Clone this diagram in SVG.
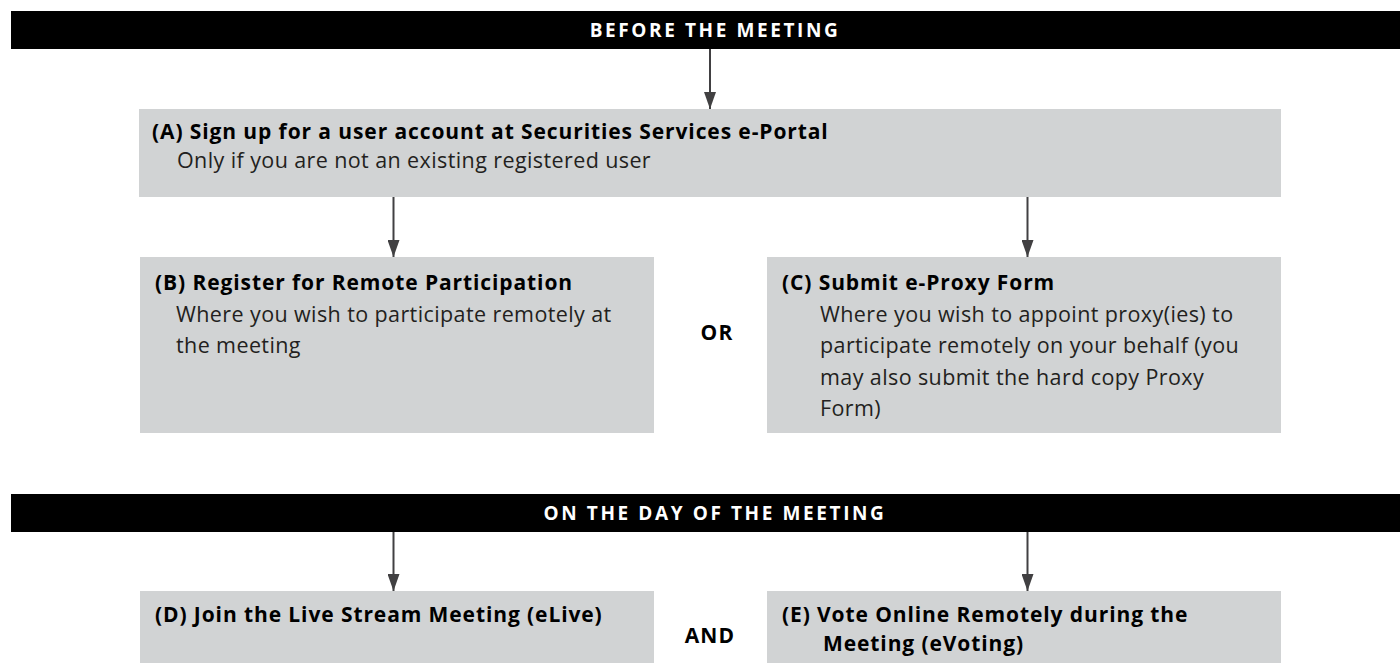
<svg xmlns="http://www.w3.org/2000/svg" width="1400" height="663" viewBox="0 0 1400 663">
<defs>
<marker id="ah" markerUnits="userSpaceOnUse" markerWidth="17" markerHeight="12" refX="17" refY="6" orient="auto">
<path d="M0,0 L17,6 L0,12 z" fill="#414042"/>
</marker>
<style>
.hdr{fill:#000}
.hdrt{font-family:"Open Sans","Liberation Sans",sans-serif;font-weight:700;font-size:19px;fill:#fff;text-anchor:middle;letter-spacing:2.6px}
.box{fill:#d1d3d4}
.t{font-family:"Open Sans","Liberation Sans",sans-serif;font-weight:700;font-size:21px;fill:#000;letter-spacing:0.9px}
.b{font-family:"Open Sans","Liberation Sans",sans-serif;font-weight:400;font-size:21.5px;fill:#231f20;letter-spacing:0.4px}
.conn line{stroke:#414042;stroke-width:2;marker-end:url(#ah)}
.op{font-family:"Open Sans","Liberation Sans",sans-serif;font-weight:700;font-size:21px;fill:#000;text-anchor:middle;letter-spacing:1.2px}
</style>
</defs>
<rect width="1400" height="663" fill="#fff"/>
<g id="header-before">
<rect class="hdr" x="11" y="11" width="1389" height="38"/>
<text class="hdrt" x="715" y="37">BEFORE THE MEETING</text>
</g>
<g id="node-a">
<rect class="box" x="139" y="109" width="1142" height="88"/>
<text class="t" x="152" y="139">(A) Sign up for a user account at Securities Services e-Portal</text>
<text class="b" x="177" y="168">Only if you are not an existing registered user</text>
</g>
<g id="node-b">
<rect class="box" x="140" y="257" width="514" height="176"/>
<text class="t" x="155" y="290">(B) Register for Remote Participation</text>
<text class="b" x="176" y="322">Where you wish to participate remotely at</text>
<text class="b" x="176" y="353">the meeting</text>
</g>
<g id="label-or">
<text class="op" x="717" y="340">OR</text>
</g>
<g id="node-c">
<rect class="box" x="767" y="257" width="514" height="176"/>
<text class="t" x="782" y="290">(C) Submit e-Proxy Form</text>
<text class="b" x="820" y="322">Where you wish to appoint proxy(ies) to</text>
<text class="b" x="820" y="353">participate remotely on your behalf (you</text>
<text class="b" x="820" y="385">may also submit the hard copy Proxy</text>
<text class="b" x="820" y="416">Form)</text>
</g>
<g id="header-day">
<rect class="hdr" x="11" y="494" width="1389" height="38"/>
<text class="hdrt" x="715" y="520">ON THE DAY OF THE MEETING</text>
</g>
<g id="node-d">
<rect class="box" x="140" y="591" width="514" height="72"/>
<text class="t" x="155" y="622">(D) Join the Live Stream Meeting (eLive)</text>
</g>
<g id="label-and">
<text class="op" x="710" y="643">AND</text>
</g>
<g id="node-e">
<rect class="box" x="767" y="591" width="514" height="72"/>
<text class="t" x="782" y="622">(E) Vote Online Remotely during the</text>
<text class="t" x="823" y="651">Meeting (eVoting)</text>
</g>
<g id="connectors" class="conn">
<line x1="710" y1="49" x2="710" y2="109"/>
<line x1="393.5" y1="197" x2="393.5" y2="257"/>
<line x1="1027.5" y1="197" x2="1027.5" y2="257"/>
<line x1="393.5" y1="532" x2="393.5" y2="591"/>
<line x1="1027.5" y1="532" x2="1027.5" y2="591"/>
</g>
</svg>
